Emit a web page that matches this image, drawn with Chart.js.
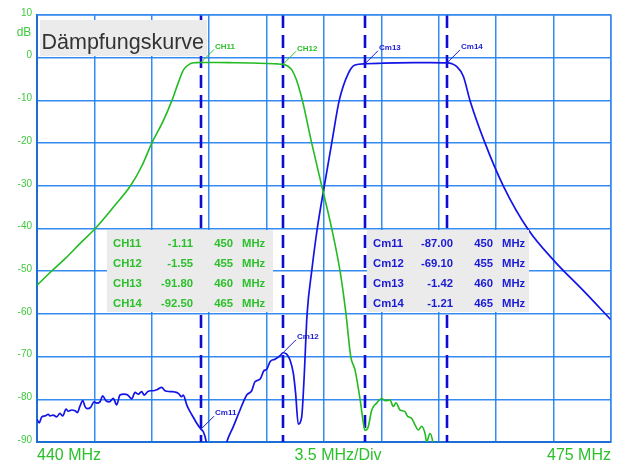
<!DOCTYPE html>
<html><head><meta charset="utf-8">
<script src="https://cdn.jsdelivr.net/npm/chart.js@4.4.1/dist/chart.umd.min.js"></script>
<style>html,body{margin:0;padding:0;background:#fff;overflow:hidden}</style>
</head><body>
<canvas id="c" width="627" height="461" style="width:627px;height:461px;display:block"></canvas>
<script>
// ---- data ----
const titleText = 'Dämpfungskurve';
const yUnit = 'dB';
const xTickLabels = ['440 MHz', '3.5 MHz/Div', '475 MHz'];
const xMin = 440, xMax = 475, xStep = 3.5;
const yMin = -90, yMax = 10, yStep = 10;

const markerFreqs = [450, 455, 460, 465];
const chNames = ['CH11', 'CH12', 'CH13', 'CH14'];
const chValues = [-1.11, -1.55, -91.80, -92.50];
const cmNames = ['Cm11', 'Cm12', 'Cm13', 'Cm14'];
const cmValues = [-87.00, -69.10, -1.42, -1.21];

const greenFreq = [440, 440.8, 441.73, 442.6, 443.55, 444.68, 445.7, 446.4, 447.0, 447.72, 448.23, 448.64, 448.94, 449.35, 449.7, 450,
  451, 452, 453, 454, 454.6, 455, 455.3, 455.53, 455.8, 456.18, 456.75, 457.36, 457.97, 458.48, 458.84, 459.13, 459.39, 459.7, 459.9, 460.0,
  460.2, 460.41, 460.71, 461.02, 461.22, 461.52, 461.73, 461.89, 462.13, 462.44, 462.58, 462.85, 463.05, 463.25, 463.46, 463.66, 463.76, 463.96, 464.13, 464.4];
const greenDb = [-53.3, -50.3, -47, -43.6, -40, -34.9, -30, -25.3, -20, -14.6, -10, -5.6, -2.8, -1.4, -1.15, -1.11,
  -1.12, -1.18, -1.25, -1.35, -1.45, -1.55, -2.0, -2.8, -5, -10, -20, -30, -40, -50, -60, -70, -73.1, -80, -85.5, -87.3,
  -86.4, -82.5, -80.9, -79.8, -80.3, -80.2, -81.7, -80.8, -82.5, -82.9, -83.9, -84.5, -86, -87.2, -86.3, -88, -90, -88, -90, -100];

const blueFreq = [440, 440.14, 440.29, 440.49, 440.69, 440.79, 440.99, 441.2, 441.4, 441.57, 441.77, 441.91, 442.12, 442.32, 442.46, 442.62, 442.79, 442.93,
  443.07, 443.27, 443.48, 443.64, 443.84, 444.0, 444.2, 444.41, 444.65, 444.86, 445.06, 445.3, 445.53, 445.77, 445.98, 446.18, 446.38, 446.54, 446.75,
  446.93, 447.09, 447.34, 447.6, 447.8, 448.11, 448.41, 448.62, 448.82, 448.92, 449.13, 449.33, 449.53, 449.74, 450, 450.14, 450.3, 450.5, 451.2, 451.57,
  451.97, 452.38, 452.79, 453.09, 453.29, 453.6, 453.84, 454.0, 454.21, 454.51, 454.82, 455, 455.22, 455.43, 455.63, 455.77, 455.93, 456.14, 456.28,
  456.47, 456.75, 457.09, 457.52, 457.97, 458.43, 458.99, 459.39, 460, 461, 462, 463, 464, 465, 465.6, 466.0, 466.4, 467.32, 468.43, 469.96, 471.59, 473.3, 475];
const blueDb = [-84.7, -85.5, -84.1, -83.9, -83.5, -83.9, -83.7, -84.1, -83.3, -83.9, -82.3, -82.8, -82.5, -82.7, -83.1, -81.6, -80.3, -81.7,
  -82.2, -81.9, -80.6, -80.9, -80.6, -79.2, -80.3, -80.6, -79.8, -81.3, -79, -78.8, -79, -79.9, -78.4, -78.8, -78.2, -79, -78.2,
  -78, -78, -77.7, -77.2, -78, -78.2, -78.3, -78.6, -79.4, -79, -81.3, -82.9, -84.2, -85.6, -87.0, -87.6, -89.6, -95, -96, -90,
  -86.4, -82.5, -79, -78, -75.9, -75.3, -73.3, -73, -71.2, -70.6, -69.8, -69.1, -69.4, -70.8, -73.9, -78.6, -85.8, -84.1, -75.5,
  -60, -50, -40, -30, -20, -10, -3.6, -1.7, -1.42, -1.3, -1.2, -1.15, -1.15, -1.21, -2.1, -4.4, -10, -20, -30, -40.3, -47.8, -54.5, -61.4];

// ---- styles ----
const GREEN = '#22bb22';
const GREEN_TXT = '#2cc02c';
const BLUE = '#1414e6';
const BLUE_TXT = '#1a1ad4';
const DASH_BLUE = '#0c0cd2';
const GRID = 'rgba(30,128,240,0.9)';
const FONT = '"Liberation Sans", Arial, Helvetica, sans-serif';

function pts(xs, ys) { return xs.map((x, i) => ({ x: x, y: ys[i] })); }

const decor = {
  id: 'decor',
  beforeDatasetsDraw(chart) {
    const ctx = chart.ctx, xs = chart.scales.x, ys = chart.scales.y, a = chart.chartArea;
    ctx.save();
    ctx.strokeStyle = DASH_BLUE;
    ctx.lineWidth = 2.6;
    ctx.setLineDash([13, 7]);
    markerFreqs.forEach(f => {
      const px = Math.round(xs.getPixelForValue(f));
      ctx.beginPath();
      ctx.moveTo(px, a.top);
      ctx.lineTo(px, a.bottom);
      ctx.stroke();
    });
    ctx.restore();
  },
  afterDatasetsDraw(chart) {
    const ctx = chart.ctx, xs = chart.scales.x, ys = chart.scales.y, a = chart.chartArea;
    ctx.save();
    // top/right border
    ctx.strokeStyle = 'rgba(60,140,240,0.8)';
    ctx.lineWidth = 1.5;
    ctx.beginPath();
    ctx.moveTo(a.left, a.top); ctx.lineTo(a.right, a.top); ctx.lineTo(a.right, a.bottom);
    ctx.stroke();

    // marker labels
    function marker(name, f, v, col) {
      if (v < yMin || v > yMax) return;
      const px = xs.getPixelForValue(f), py = ys.getPixelForValue(v);
      ctx.strokeStyle = col; ctx.lineWidth = 1;
      ctx.beginPath(); ctx.moveTo(px, py); ctx.lineTo(px + 13, py - 13); ctx.stroke();
      ctx.fillStyle = col;
      ctx.font = 'bold 8px ' + FONT;
      ctx.textAlign = 'left'; ctx.textBaseline = 'middle';
      ctx.fillText(name, px + 14, py - 16);
    }
    markerFreqs.forEach((f, i) => marker(chNames[i], f, chValues[i], GREEN_TXT));
    markerFreqs.forEach((f, i) => marker(cmNames[i], f, cmValues[i], BLUE_TXT));

    // tables
    function table(x0, x1, names, vals, col) {
      ctx.fillStyle = '#ebebeb';
      ctx.fillRect(x0, 230, x1 - x0, 82);
      ctx.fillStyle = col;
      ctx.font = 'bold 11.3px ' + FONT;
      ctx.textBaseline = 'middle';
      names.forEach((n, i) => {
        const y = 244 + i * 20;
        ctx.textAlign = 'left'; ctx.fillText(n, x0 + 6, y);
        ctx.textAlign = 'right'; ctx.fillText(vals[i].toFixed(2), x0 + 86, y);
        ctx.fillText(String(markerFreqs[i]), x0 + 126, y);
        ctx.textAlign = 'left'; ctx.fillText('MHz', x0 + 135, y);
      });
    }
    table(107, 273, chNames, chValues, GREEN_TXT);
    table(367, 529, cmNames, cmValues, BLUE_TXT);

    // title box
    ctx.fillStyle = '#ebebeb';
    ctx.fillRect(40, 20, 167, 36);
    ctx.fillStyle = '#333333';
    ctx.font = '21.5px ' + FONT;
    ctx.textAlign = 'left'; ctx.textBaseline = 'alphabetic';
    ctx.fillText(titleText, 41.5, 48.5);

    // x axis labels
    ctx.fillStyle = GREEN_TXT;
    ctx.font = '16px ' + FONT;
    ctx.textBaseline = 'alphabetic';
    ctx.textAlign = 'left'; ctx.fillText(xTickLabels[0], a.left, 460);
    ctx.textAlign = 'center'; ctx.fillText(xTickLabels[1], (a.left + a.right) / 2 + 14, 460);
    ctx.textAlign = 'right'; ctx.fillText(xTickLabels[2], a.right, 460);

    // dB
    ctx.fillStyle = '#3fc83f';
    ctx.font = '12px ' + FONT;
    ctx.textAlign = 'center'; ctx.textBaseline = 'middle';
    ctx.fillText(yUnit, 24, 33);
    ctx.restore();
  }
};

new Chart(document.getElementById('c'), {
  type: 'line',
  data: {
    datasets: [
      { data: pts(greenFreq, greenDb), borderColor: GREEN, borderWidth: 1.6, pointRadius: 0, cubicInterpolationMode: 'monotone', fill: false },
      { data: pts(blueFreq, blueDb), borderColor: BLUE, borderWidth: 1.7, pointRadius: 0, cubicInterpolationMode: 'monotone', fill: false }
    ]
  },
  options: {
    responsive: false,
    animation: false,
    devicePixelRatio: 1,
    layout: { padding: { left: 0, right: 16, top: 15, bottom: 0 } },
    plugins: { legend: { display: false }, tooltip: { enabled: false } },
    scales: {
      x: {
        type: 'linear', min: xMin, max: xMax,
        afterBuildTicks: s => { const t = []; for (let v = xMin; v <= xMax + 1e-6; v += xStep) t.push({ value: +v.toFixed(2) }); s.ticks = t; },
        ticks: { display: false },
        grid: { color: GRID, lineWidth: 1.5, drawTicks: false, tickLength: 0 },
        border: { display: true, color: '#1d6fd6', width: 2 },
        afterFit: s => { s.height = 19; }
      },
      y: {
        type: 'linear', min: yMin, max: yMax,
        ticks: { stepSize: yStep, color: '#3fc83f', font: { size: 10, family: FONT }, padding: 5, labelOffset: -2, callback: v => String(v) },
        grid: { color: GRID, lineWidth: 1.5, drawTicks: false, tickLength: 0 },
        border: { display: true, color: '#1d6fd6', width: 2 },
        afterFit: s => { s.width = 37; }
      }
    }
  },
  plugins: [decor]
});
</script>
</body></html>
